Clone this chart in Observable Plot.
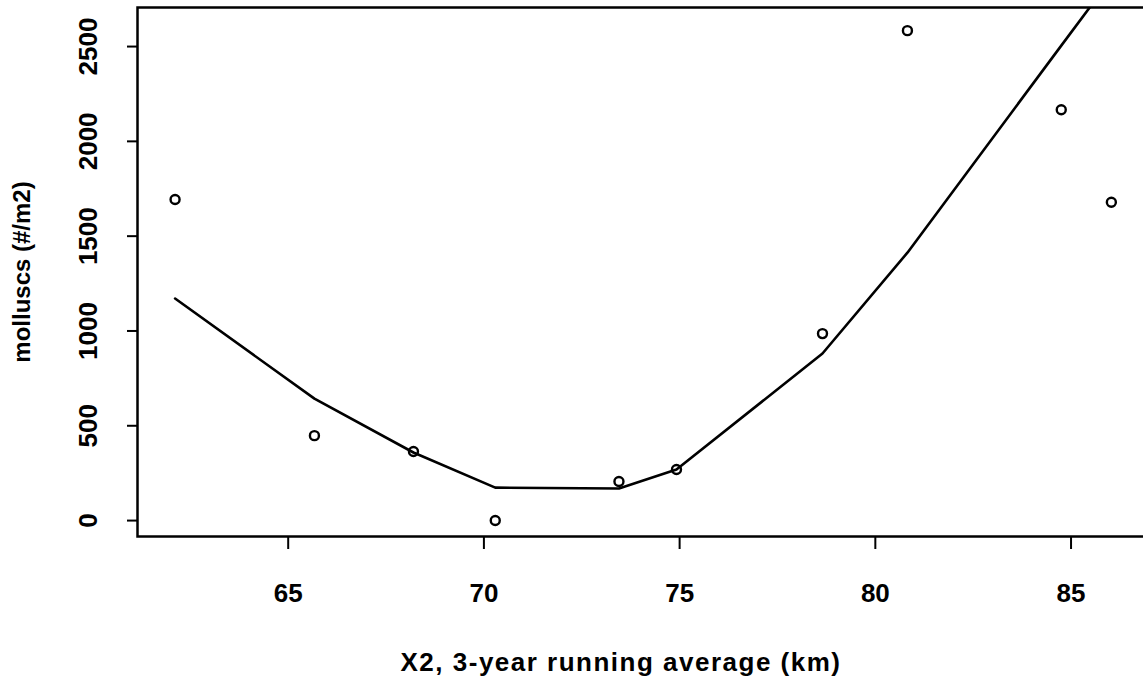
<!DOCTYPE html>
<html>
<head>
<meta charset="utf-8">
<script src="https://cdn.jsdelivr.net/npm/d3@7"></script>
<script src="https://cdn.jsdelivr.net/npm/@observablehq/plot@0.6"></script>
<style>
  html, body { margin: 0; padding: 0; background: #fff; overflow: hidden; }
  #chart svg { display: block; max-width: none !important; width: 1150px; height: 680px !important; }
</style>
</head>
<body>
<div id="chart"></div>
<script>
// Observed points: X2 (km) and molluscs (#/m2)
const x2 = [62.11, 65.67, 68.20, 70.29, 73.45, 74.92, 78.65, 80.82, 84.75, 86.03];
const molluscs = [1693, 448, 364, 0, 206, 269, 986, 2584, 2167, 1679];
// Smoothed (lowess) curve values at the same X2 positions
const smooth = [1171, 643, 359, 174, 169, 269, 881, 1413, 2505, 2859];

const xTicks = [65, 70, 75, 80, 85];
const yTicks = [0, 500, 1000, 1500, 2000, 2500];
const xTitle = "X2, 3-year running average (km)";
const yTitle = "molluscs (#/m2)";

const points = x2.map((x, i) => ({x, y: molluscs[i]}));
const curve = x2.map((x, i) => ({x, y: smooth[i]}));

const chart = Plot.plot({
  width: 1150,
  height: 680,
  marginLeft: 137,
  marginRight: 0,
  marginTop: 7,
  marginBottom: 144,
  style: {fontFamily: "'Liberation Sans', Arial, Helvetica, sans-serif", color: "#000", background: "#fff"},
  x: {domain: [61.15, 87.03]},
  y: {domain: [-84, 2706]},
  marks: [
    Plot.axisX({ticks: xTicks, tickSize: 13, tickPadding: 34, fontSize: 26, fontWeight: "bold", label: null, strokeWidth: 2}),
    Plot.axisY({ticks: yTicks, tickSize: 10, tickFormat: () => "", label: null, strokeWidth: 2}),
    Plot.text(yTicks, {y: d => d, text: d => String(d), frameAnchor: "left", textAnchor: "middle", lineAnchor: "middle", dx: -49, rotate: -90, fontSize: 26, fontWeight: "bold"}),
    Plot.text([xTitle], {text: d => d, frameAnchor: "bottom", textAnchor: "middle", lineAnchor: "middle", dx: -23, dy: 126, fontSize: 26, fontWeight: "bold"}),
    Plot.text([yTitle], {text: d => d, frameAnchor: "left", textAnchor: "middle", lineAnchor: "middle", dx: -115, rotate: -90, fontSize: 24, fontWeight: "bold"}),
    Plot.line(curve, {x: "x", y: "y", stroke: "#000", strokeWidth: 2.6, clip: true}),
    Plot.dot(points, {x: "x", y: "y", r: 4.5, stroke: "#000", strokeWidth: 2.4, fill: "none"}),
    Plot.frame({stroke: "#000", strokeWidth: 2.5})
  ]
});
// widen the horizontal axis title slightly (the source scan is stretched horizontally)
d3.select(chart).selectAll("text").filter(function() { return this.textContent === xTitle; })
  .style("letter-spacing", "1.5px");
document.getElementById("chart").appendChild(chart);
</script>
</body>
</html>
